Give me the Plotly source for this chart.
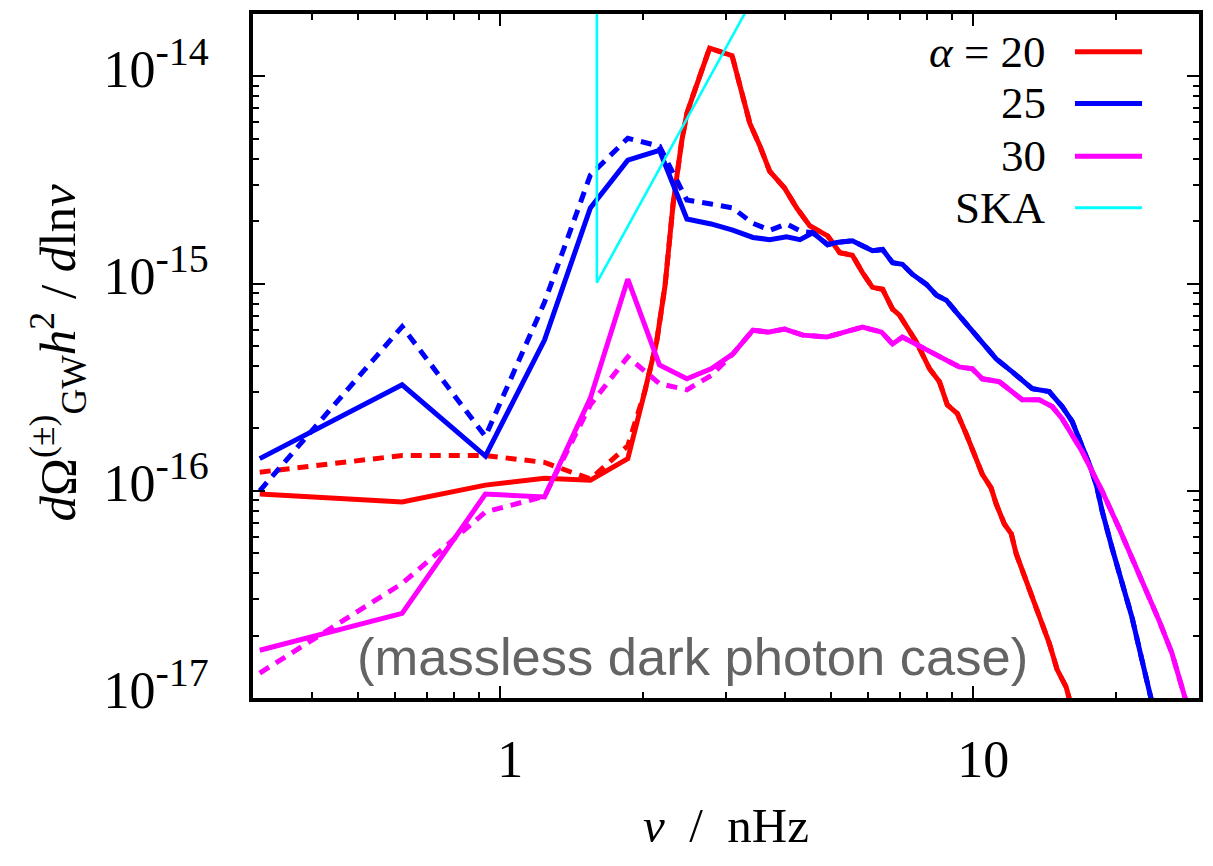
import math
import plotly.graph_objects as go

# ---------------- data ----------------
# alpha = 20 (red)
red_x = [0.31, 0.62, 0.93, 1.24, 1.55, 1.86, 2.02, 2.14, 2.23, 2.32, 2.42, 2.48, 2.55, 2.64,
         2.77, 3.09, 3.26, 3.37, 3.54, 3.71, 3.99, 4.23, 4.51, 4.92, 5.22, 5.55, 5.83, 6.12,
         6.43, 6.75, 6.98, 7.58, 8.08, 8.48, 8.81, 9.25, 9.67, 10.15, 10.45, 10.91, 11.18,
         11.63, 12.03, 12.32, 12.69, 13.32, 13.98, 14.47, 15.04, 15.71, 15.94, 16.2]
red_y = [9.64e-17, 8.83e-17, 1.065e-16, 1.15e-16, 1.125e-16, 1.43e-16, 3.01e-16, 5.22e-16,
         9.8e-16, 2.45e-15, 4.92e-15, 6.63e-15, 7.99e-15, 1.0e-14, 1.37e-14, 1.26e-14,
         7.65e-15, 5.93e-15, 4.60e-15, 3.49e-15, 2.89e-15, 2.32e-15, 1.90e-15, 1.70e-15,
         1.41e-15, 1.37e-15, 1.13e-15, 9.59e-16, 9.38e-16, 7.52e-16, 7.04e-16, 5.22e-16,
         3.88e-16, 3.36e-16, 2.60e-16, 2.36e-16, 1.87e-16, 1.43e-16, 1.20e-16, 1.03e-16,
         8.63e-17, 6.92e-17, 6.20e-17, 4.97e-17, 4.12e-17, 3.06e-17, 2.20e-17, 1.84e-17,
         1.37e-17, 1.13e-17, 1.0e-17, 9.0e-18]
red_dash_x_head = [0.31, 0.62, 0.93, 1.24, 1.55, 1.86]
red_dash_y_head = [1.23e-16, 1.48e-16, 1.48e-16, 1.37e-16, 1.14e-16, 1.65e-16]
red_dash_join = 6  # dashed curve coincides with the solid one from here on

# alpha = 25 (blue)
blue_x = [0.31, 0.62, 0.93, 1.24, 1.55, 1.86, 2.17, 2.48, 2.79, 3.10, 3.42, 3.71, 4.03, 4.30,
          4.58, 4.92, 5.14, 5.55, 6.12, 6.43, 6.75, 7.08, 7.43, 7.96, 8.36, 8.77, 9.21, 9.81,
          10.45, 11.18, 12.09, 13.32, 14.47, 15.41, 16.18, 16.98, 17.74, 18.27, 18.72, 19.64,
          20.62, 21.65, 22.72, 23.74, 24.1]
blue_y = [1.43e-16, 3.25e-16, 1.47e-16, 5.34e-16, 2.32e-15, 3.94e-15, 4.40e-15, 2.05e-15,
          1.94e-15, 1.81e-15, 1.67e-15, 1.63e-15, 1.68e-15, 1.63e-15, 1.76e-15, 1.54e-15,
          1.58e-15, 1.61e-15, 1.44e-15, 1.46e-15, 1.26e-15, 1.24e-15, 1.11e-15, 9.91e-16,
          8.78e-16, 8.31e-16, 7.27e-16, 6.16e-16, 5.22e-16, 4.33e-16, 3.75e-16, 3.11e-16,
          3.01e-16, 2.55e-16, 2.16e-16, 1.67e-16, 1.28e-16, 1.03e-16, 7.99e-17, 5.31e-17,
          3.69e-17, 2.45e-17, 1.53e-17, 1.0e-17, 9.3e-18]
blue_dash_x_head = [0.31, 0.62, 0.93, 1.24, 1.55, 1.86, 2.17, 2.48, 2.79, 3.10, 3.41, 3.72,
                    4.03, 4.34]
blue_dash_y_head = [1.0e-16, 6.2e-16, 1.83e-16, 8.12e-16, 3.34e-15, 5.03e-15, 4.60e-15,
                    2.53e-15, 2.42e-15, 2.32e-15, 1.96e-15, 1.81e-15, 1.94e-15, 1.78e-15]
blue_dash_join = 14

# alpha = 30 (magenta)
mag_x = [0.31, 0.62, 0.93, 1.24, 1.55, 1.86, 2.17, 2.48, 2.79, 3.10, 3.42, 3.68, 3.99, 4.36,
         4.90, 5.29, 5.83, 6.40, 6.75, 7.08, 7.69, 8.48, 9.34, 9.95, 10.45, 11.35, 12.09,
         12.69, 13.78, 14.68, 15.41, 16.18, 16.98, 17.83, 18.72, 20.32, 21.65, 23.17, 24.69,
         26.29, 27.87, 28.3]
mag_y = [1.70e-17, 2.56e-17, 9.64e-17, 9.33e-17, 2.8e-16, 1.05e-15, 4.05e-16, 3.47e-16,
         3.88e-16, 4.57e-16, 5.96e-16, 5.83e-16, 6.03e-16, 5.64e-16, 5.52e-16, 5.83e-16,
         6.16e-16, 5.83e-16, 5.11e-16, 5.52e-16, 5.0e-16, 4.47e-16, 3.96e-16, 3.88e-16,
         3.47e-16, 3.36e-16, 3.01e-16, 2.75e-16, 2.75e-16, 2.55e-16, 2.23e-16, 1.87e-16,
         1.55e-16, 1.24e-16, 9.97e-17, 6.62e-17, 4.76e-17, 3.30e-17, 2.37e-17, 1.65e-17,
         1.0e-17, 9.3e-18]
mag_dash_x_head = [0.31, 0.62, 0.93, 1.24, 1.55, 1.86, 2.17, 2.48, 2.79]
mag_dash_y_head = [1.32e-17, 3.57e-17, 7.9e-17, 9.4e-17, 2.60e-16, 4.43e-16, 3.29e-16,
                   3.07e-16, 3.6e-16]
mag_dash_join = 9

# SKA sensitivity
ska_x = [1.6, 1.6, 5.0]
ska_y = [1e-12, 1.01e-15, 1.15e-13]

legend_labels = ["<i>α</i> = 20", "25", "30", "SKA"]

x_major = [1, 10]
x_major_text = ["1", "10"]
x_minor = [0.3, 0.4, 0.5, 0.6, 0.7, 0.8, 0.9, 2, 3, 4, 5, 6, 7, 8, 9, 20, 30]
y_major = [1e-17, 1e-16, 1e-15, 1e-14]
y_exponents = ["-17", "-16", "-15", "-14"]
y_minor = [m * 10.0 ** e for e in (-17, -16, -15) for m in range(2, 10)] + [2e-14]

# ---------------- figure ----------------
RED, BLUE, MAG, CYAN = "#ff0000", "#0000ff", "#ff00ff", "#00ffff"
LW = 5
DASH = "11px,8px"

fig = go.Figure()

def add(x, y, color, width, dash="solid"):
    fig.add_trace(go.Scatter(x=x, y=y, mode="lines",
                             line=dict(color=color, width=width, dash=dash),
                             showlegend=False, hoverinfo="skip"))

add(red_x, red_y, RED, LW)
add(red_dash_x_head + red_x[red_dash_join:], red_dash_y_head + red_y[red_dash_join:], RED, LW, DASH)
add(blue_x, blue_y, BLUE, LW)
add(blue_dash_x_head + blue_x[blue_dash_join:], blue_dash_y_head + blue_y[blue_dash_join:], BLUE, LW, DASH)
add(mag_x, mag_y, MAG, LW)
add(mag_dash_x_head + mag_x[mag_dash_join:], mag_dash_y_head + mag_y[mag_dash_join:], MAG, LW, DASH)
add(ska_x, ska_y, CYAN, 2.6)

serif = "Liberation Serif"
y_major_text = ["10<sup><span style='font-size:40px'>%s</span></sup>" % e for e in y_exponents]

fig.update_xaxes(
    type="log", range=[math.log10(0.3), math.log10(30)],
    tickmode="array", tickvals=x_major, ticktext=x_major_text,
    ticks="inside", ticklen=12, tickwidth=2, tickcolor="black",
    showline=True, linewidth=3.5, linecolor="black", mirror="allticks",
    showgrid=False, zeroline=False,
    tickfont=dict(family=serif, size=52, color="black"),
    ticklabelshift=10, ticklabelstandoff=13,
    minor=dict(tickmode="array", tickvals=x_minor, ticks="inside", ticklen=6,
               tickwidth=2, tickcolor="black", showgrid=False),
)
fig.update_yaxes(
    type="log", range=[-17, math.log10(2e-14)],
    tickmode="array", tickvals=y_major, ticktext=y_major_text,
    ticks="inside", ticklen=12, tickwidth=2, tickcolor="black",
    showline=True, linewidth=3.5, linecolor="black", mirror="allticks",
    showgrid=False, zeroline=False,
    tickfont=dict(family=serif, size=52, color="black"),
    ticklabelshift=-8, ticklabelstandoff=30,
    minor=dict(tickmode="array", tickvals=y_minor, ticks="inside", ticklen=6,
               tickwidth=2, tickcolor="black", showgrid=False),
)

annotations = [
    dict(text="<i>d</i>Ω<sup>(±)</sup><sub>GW</sub><i>h</i><sup>2</sup> / <i>d</i>ln<i>ν</i>",
         xref="paper", yref="paper", x=-0.206, y=0.504, textangle=-90,
         showarrow=False, xanchor="center", yanchor="middle",
         font=dict(family=serif, size=51, color="black")),
    dict(text="<i>ν</i>&nbsp;&nbsp;/&nbsp;&nbsp;nHz", xref="paper", yref="paper", x=0.5, y=-0.187,
         showarrow=False, xanchor="center", yanchor="middle",
         font=dict(family=serif, size=49, color="black")),
    dict(text="(massless dark photon case)", xref="paper", yref="paper", x=0.4651, y=0.014,
         showarrow=False, xanchor="center", yanchor="bottom",
         font=dict(family="Liberation Sans", size=52.5, color="#646464")),
]

# custom legend (text on the left, line sample on the right)
leg_rows_y = [0.9448, 0.8692, 0.7922, 0.7166]
leg_colors = [RED, BLUE, MAG, CYAN]
leg_widths = [5, 5, 5, 3]
shapes = []
for lab, yy, col, w in zip(legend_labels, leg_rows_y, leg_colors, leg_widths):
    annotations.append(dict(text=lab, xref="paper", yref="paper", x=0.8404, y=yy,
                            showarrow=False, xanchor="right", yanchor="middle",
                            font=dict(family=serif, size=45, color="black")))
    shapes.append(dict(type="line", xref="paper", yref="paper", x0=0.8689, x1=0.9398,
                       y0=yy, y1=yy, line=dict(color=col, width=w)))

fig.update_layout(
    width=1213, height=866,
    margin=dict(l=253, r=14, t=10, b=168),
    paper_bgcolor="white", plot_bgcolor="white",
    showlegend=False,
    annotations=annotations, shapes=shapes,
)

fig.write_html("out.html")
